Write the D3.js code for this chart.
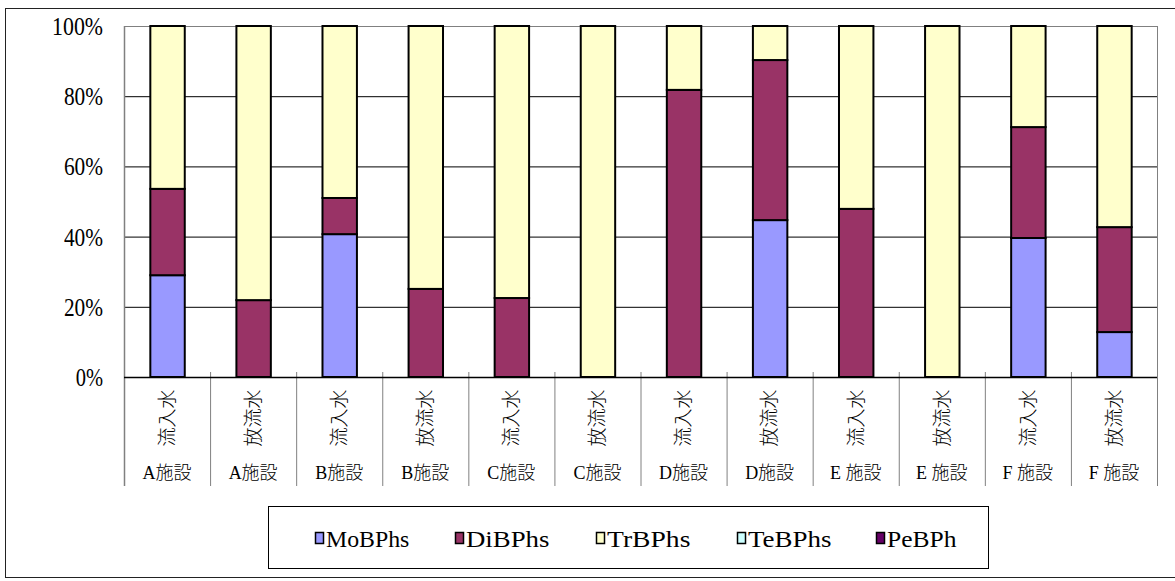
<!DOCTYPE html>
<html><head><meta charset="utf-8">
<script src="https://cdn.jsdelivr.net/npm/d3@7"></script>
<style>
body{margin:0;background:#fff;}
svg{display:block;}
.ylab{font-family:"Liberation Serif","Times New Roman",serif;font-size:25px;}
</style></head><body>
<svg id="chart" width="1175" height="581"></svg>
<script>
const sampleTypes = ["流入水","放流水","流入水","放流水","流入水","放流水","流入水","放流水","流入水","放流水","流入水","放流水"];
const facilities = ["A施設","A施設","B施設","B施設","C施設","C施設","D施設","D施設","E 施設","E 施設","F 施設","F 施設"];
const seriesNames = ["MoBPhs","DiBPhs","TrBPhs","TeBPhs","PeBPh"];
const seriesColors = ["#9999ff","#993366","#ffffcc","#ccffff","#660066"];
const MoBPhs = [29.0, 0, 40.7, 0, 0, 0, 0, 44.7, 0, 0, 39.6, 12.8];
const DiBPhs = [24.6, 21.9, 10.3, 25.1, 22.5, 0, 81.8, 45.6, 47.9, 0, 31.6, 29.9];
const TrBPhs = [46.4, 78.1, 49.0, 74.9, 77.5, 100, 18.2, 9.7, 52.1, 100, 28.8, 57.3];
const TeBPhs = [0,0,0,0,0,0,0,0,0,0,0,0];
const PeBPh  = [0,0,0,0,0,0,0,0,0,0,0,0];
const yTicks = [0, 20, 40, 60, 80, 100];

const seriesData = [MoBPhs, DiBPhs, TrBPhs, TeBPhs, PeBPh];
const rows = sampleTypes.map((s, i) => {
  const r = {key: i};
  seriesNames.forEach((n, k) => r[n] = seriesData[k][i]);
  return r;
});

const svg = d3.select("#chart");
const L = 124, R = 1157, T = 26, B = 377, LB = 486;
const serif = "'Liberation Serif', 'Noto Sans CJK JP', serif";

// outer frame
svg.append("rect").attr("x", 5.5).attr("y", 8.5).attr("width", 1175).attr("height", 569)
  .attr("fill", "none").attr("stroke", "#222").attr("stroke-width", 1);

const x = d3.scaleBand().domain(d3.range(12)).range([L, R]).paddingInner(0.6).paddingOuter(0.3);
const y = d3.scaleLinear().domain([0, 100]).range([B, T]);
const step = x.step();

// gridlines
svg.append("g").selectAll("line").data(yTicks.filter(t => t > 0)).join("line")
  .attr("x1", L).attr("x2", R).attr("y1", d => y(d) + 0.5).attr("y2", d => y(d) + 0.5)
  .attr("stroke", d => d === 100 ? "#808080" : "#000").attr("stroke-width", 1);

// right border of plot
svg.append("line").attr("x1", R + 0.5).attr("x2", R + 0.5).attr("y1", T).attr("y2", LB)
  .attr("stroke", "#808080");

// y axis
const yAxis = d3.axisLeft(y).tickValues(yTicks).tickFormat(d => d + "%").tickSize(0).tickPadding(21);
const ga = svg.append("g").attr("transform", `translate(${L},0)`).call(yAxis);
ga.attr("font-family", "Liberation Serif").attr("font-size", 25);
ga.select(".domain").remove();
ga.selectAll("text").attr("class", "ylab").attr("fill", "#000").attr("dy", "0.34em")
  .attr("textLength", d => String(d).length * 11.8 + 15.5).attr("lengthAdjust", "spacingAndGlyphs");
svg.append("line").attr("x1", L + 0.5).attr("x2", L + 0.5).attr("y1", T).attr("y2", LB).attr("stroke", "#808080").attr("stroke-width", 1.5);

// x category dividers
svg.append("g").selectAll("line").data(d3.range(1, 12)).join("line")
  .attr("x1", d => L + d * step + 0.5).attr("x2", d => L + d * step + 0.5)
  .attr("y1", B - 5).attr("y2", LB).attr("stroke", "#808080");

// bars
const stack = d3.stack().keys(seriesNames);
const stacked = stack(rows);
svg.append("g").selectAll("g").data(stacked).join("g")
  .attr("fill", (d, i) => seriesColors[i])
  .selectAll("rect").data(d => d.filter(v => v[1] - v[0] > 0)).join("rect")
  .attr("x", d => x(d.data.key) + 0.5)
  .attr("y", d => y(d[1]))
  .attr("width", x.bandwidth())
  .attr("height", d => y(d[0]) - y(d[1]))
  .attr("stroke", "#000").attr("stroke-width", 2);

// bottom axis line at 0
svg.append("line").attr("x1", L).attr("x2", R).attr("y1", B + 0.5).attr("y2", B + 0.5).attr("stroke", "#000").attr("stroke-width", 1.5);

// x labels: rotated sample types
const xl = svg.append("g");
xl.selectAll("text.st").data(sampleTypes).join("text").attr("class", "st")
  .attr("transform", (d, i) => `translate(${x(i) + x.bandwidth() / 2},418) rotate(-90)`)
  .attr("text-anchor", "middle").attr("dy", "0.36em")
  .style("font-family", "'Noto Sans CJK JP', sans-serif").style("font-size", "19px").style("font-weight", 300)
  .attr("fill", "#000")
  .text(d => d);
xl.selectAll("text.fac").data(facilities).join("text").attr("class", "fac")
  .attr("x", (d, i) => x(i) + x.bandwidth() / 2)
  .attr("y", 473).attr("dy", "0.36em").attr("text-anchor", "middle")
  .style("font-family", serif).style("font-size", "18px").style("font-weight", 300)
  .attr("fill", "#000")
  .text(d => d);

// legend
svg.append("rect").attr("x", 268.5).attr("y", 506.5).attr("width", 720).attr("height", 62)
  .attr("fill", "#fff").attr("stroke", "#000");
const legX = [315, 455, 596, 737, 876];
const lg = svg.append("g").selectAll("g").data(seriesNames).join("g")
  .attr("transform", (d, i) => `translate(${legX[i]},539)`);
lg.append("rect").attr("x", 0.5).attr("y", -6.5).attr("width", 8).attr("height", 11)
  .attr("fill", (d, i) => seriesColors[i]).attr("stroke", "#000").attr("stroke-width", 1.5);
lg.append("text").attr("x", 11).attr("y", 0).attr("dy", "0.36em")
  .style("font-family", "'Liberation Serif', serif").style("font-size", "23px")
  .attr("textLength", d => d.length * 13.9).attr("lengthAdjust", "spacingAndGlyphs")
  .attr("fill", "#000").text(d => d);
</script>
</body></html>
